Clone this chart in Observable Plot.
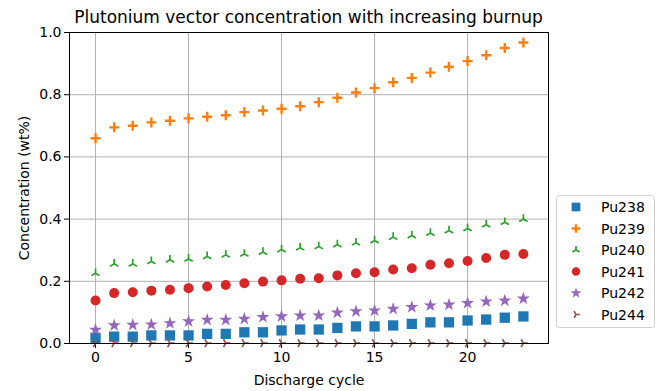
<!DOCTYPE html>
<html>
<head>
<meta charset="utf-8">
<script src="https://cdn.jsdelivr.net/npm/d3@7"></script>
<script src="https://cdn.jsdelivr.net/npm/@observablehq/plot@0.6"></script>
<style>
  html, body { margin: 0; padding: 0; background: #fff; }
  #chart { width: 661px; height: 391px; }
</style>
</head>
<body>
<div id="chart"></div>
<script>
const title = "Plutonium vector concentration with increasing burnup";
const xLabel = "Discharge cycle";
const yLabel = "Concentration (wt%)";
const cycles = [0,1,2,3,4,5,6,7,8,9,10,11,12,13,14,15,16,17,18,19,20,21,22,23];
const xTicks = [0, 5, 10, 15, 20];
const yTicks = [0, 0.2, 0.4, 0.6, 0.8, 1.0];
const seriesNames = ["Pu238", "Pu239", "Pu240", "Pu241", "Pu242", "Pu244"];
const pu238 = [0.018,0.022,0.022,0.026,0.026,0.026,0.031,0.031,0.036,0.036,0.042,0.045,0.045,0.050,0.055,0.055,0.058,0.063,0.068,0.068,0.074,0.077,0.083,0.087];
const pu239 = [0.660,0.695,0.700,0.711,0.716,0.724,0.729,0.734,0.744,0.749,0.755,0.763,0.776,0.790,0.807,0.821,0.840,0.854,0.871,0.890,0.908,0.927,0.950,0.968];
const pu240 = [0.226,0.256,0.256,0.264,0.269,0.272,0.280,0.285,0.288,0.294,0.302,0.308,0.312,0.318,0.324,0.331,0.342,0.347,0.355,0.363,0.370,0.382,0.390,0.400];
const pu241 = [0.138,0.162,0.165,0.170,0.173,0.178,0.183,0.188,0.194,0.199,0.203,0.208,0.210,0.219,0.226,0.229,0.238,0.242,0.253,0.258,0.265,0.275,0.285,0.288];
const pu242 = [0.044,0.058,0.060,0.061,0.065,0.071,0.076,0.076,0.079,0.085,0.087,0.090,0.090,0.099,0.103,0.106,0.111,0.117,0.122,0.125,0.130,0.135,0.138,0.144];
const pu244 = [0.001,0.001,0.001,0.001,0.001,0.001,0.001,0.001,0.001,0.001,0.001,0.001,0.001,0.001,0.001,0.001,0.001,0.001,0.001,0.001,0.001,0.001,0.001,0.001];

const colors = ["#1f77b4", "#ff7f0e", "#2ca02c", "#d62728", "#9467bd", "#8c564b"];

function triSymbol(angleDeg) {
  return {
    draw(ctx, size) {
      const r = Math.sqrt(size / Math.PI);
      for (const a of [0, 120, 240]) {
        const t = (angleDeg + a) * Math.PI / 180;
        ctx.moveTo(0, 0);
        ctx.lineTo(r * Math.sin(t), -r * Math.cos(t));
      }
    }
  };
}
function plusSymbol() {
  return {
    draw(ctx, size) {
      const r = Math.sqrt(size / Math.PI);
      ctx.moveTo(-r, 0); ctx.lineTo(r, 0);
      ctx.moveTo(0, -r); ctx.lineTo(0, r);
    }
  };
}
const triUp = triSymbol(0);
const triRight = triSymbol(90);
const plus = plusSymbol();

const styles = [
  {symbol: "square", r: 5.8, filled: true},
  {symbol: plus, r: 5, filled: false, sw: 2.4},
  {symbol: triUp, r: 4.8, filled: false, sw: 1.7},
  {symbol: "circle", r: 5, filled: true},
  {symbol: "star", r: 4.1, filled: true},
  {symbol: triRight, r: 4.5, filled: false, sw: 1.7}
];
const values = [pu238, pu239, pu240, pu241, pu242, pu244];
const tables = values.map(v => cycles.map((c, i) => ({x: c, y: v[i]})));

const font = "'DejaVu Sans', sans-serif";

const marks = [
  Plot.gridX(xTicks, {stroke: "#b0b0b0", strokeOpacity: 1, strokeWidth: 1}),
  Plot.gridY(yTicks, {stroke: "#b0b0b0", strokeOpacity: 1, strokeWidth: 1}),
  Plot.axisX({ticks: xTicks, tickSize: 5, tickPadding: 4, label: xLabel, labelAnchor: "center", labelArrow: "none", labelOffset: 41}),
  Plot.axisY({ticks: yTicks, tickSize: 5, tickPadding: 3, tickFormat: d3.format(".1f"), label: yLabel, labelAnchor: "center", labelArrow: "none", labelOffset: 50}),
];
tables.forEach((t, k) => {
  const s = styles[k];
  marks.push(Plot.dot(t, {
    x: "x", y: "y", symbol: () => s.symbol, r: s.r,
    fill: s.filled ? colors[k] : "none",
    stroke: s.filled ? "none" : colors[k],
    strokeWidth: s.sw || 1
  }));
});
marks.push(Plot.frame({stroke: "#000", strokeWidth: 1}));

const chart = Plot.plot({
  width: 661,
  height: 391,
  marginLeft: 69,
  marginRight: 113,
  marginTop: 32,
  marginBottom: 48,
  style: {fontFamily: font, fontSize: "14px", color: "#000", background: "#fff"},
  x: {domain: [-1.4, 24.35]},
  y: {domain: [0, 1]},
  symbol: {type: "identity"},
  marks
});
document.getElementById("chart").appendChild(chart);

const svg = d3.select(chart);
// title
svg.append("text").attr("x", (69 + 548) / 2).attr("y", 23).attr("text-anchor", "middle")
  .attr("font-family", font).attr("font-size", "17px").attr("fill", "#000").text(title);

// legend
const lg = svg.append("g").attr("font-family", font).attr("font-size", "14px").attr("text-anchor", "start");
lg.append("rect").attr("x", 556.5).attr("y", 195.5).attr("width", 98).attr("height", 132)
  .attr("rx", 3).attr("fill", "#fff").attr("stroke", "#d0d0d0");
const symMap = {square: d3.symbolSquare, circle: d3.symbolCircle, star: d3.symbolStar};
seriesNames.forEach((name, k) => {
  const s = styles[k];
  const cy = 207 + k * 21.5;
  const sym = typeof s.symbol === "string" ? symMap[s.symbol] : s.symbol;
  const rr = s.r * 0.85;
  lg.append("path")
    .attr("transform", `translate(576,${cy})`)
    .attr("d", d3.symbol(sym, rr * rr * Math.PI)())
    .attr("fill", s.filled ? colors[k] : "none")
    .attr("stroke", s.filled ? "none" : colors[k])
    .attr("stroke-width", s.sw || 1);
  lg.append("text").attr("x", 601).attr("y", cy).attr("dy", "0.36em").attr("fill", "#000").text(name);
});
</script>
</body>
</html>
